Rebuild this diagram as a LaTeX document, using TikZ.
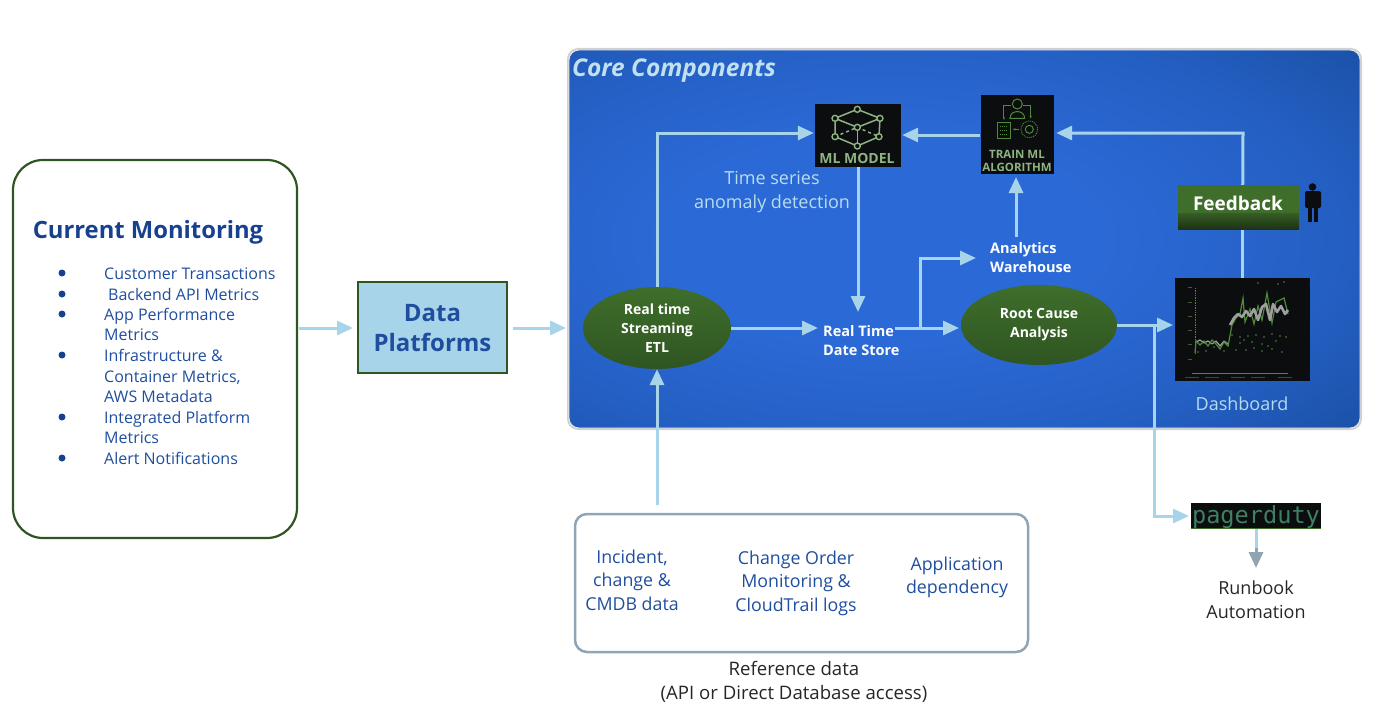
\documentclass[tikz,border=0pt]{standalone}
\usepackage{fontspec}
\setmainfont{Open Sans}
\newfontfamily\pdfont{DejaVu Sans Mono}
\usetikzlibrary{arrows.meta,shapes.geometric,calc,shadows}
\definecolor{arrowblue}{HTML}{A8D4EA}
\definecolor{inkblue}{HTML}{1F4E9E}
\definecolor{deepblue}{HTML}{17408F}
\definecolor{leaf}{HTML}{3F6E2B}
\definecolor{leafdark}{HTML}{2F5522}
\definecolor{ink}{HTML}{0B0D0E}
\definecolor{softgreen}{HTML}{8FB381}
\definecolor{linegreen}{HTML}{4E8A3A}
\definecolor{greyframe}{HTML}{8FA5B5}
\definecolor{greyarrow}{HTML}{8FA3B0}
\definecolor{panelmid}{HTML}{2B69D6}
\definecolor{paneledge}{HTML}{174C9E}
\definecolor{pdtext}{HTML}{3F7F62}
\pgfdeclareradialshading{panelglow}{\pgfpoint{-6bp}{0bp}}{color(0bp)=(panelmid); color(14bp)=(panelmid); color(28bp)=(panelmid!65!paneledge); color(42bp)=(paneledge); color(100bp)=(paneledge)}
\tikzset{
 flow/.style={draw=arrowblue,line width=3pt,-{Triangle[length=16pt,width=14pt]}},
 plainflow/.style={draw=arrowblue,line width=3pt},
 etlshape/.style={ellipse,draw=none,top color=leaf,bottom color=leafdark,inner sep=0pt,text=white,font=\bfseries\fontsize{14}{19}\selectfont,align=center},
 whitebold/.style={text=white,font=\bfseries\fontsize{14.5}{19}\selectfont,align=left,anchor=west,inner sep=0pt},
 imgbox/.style={fill=ink,draw=none,inner sep=0pt},
 bluetext/.style={text=inkblue,font=\fontsize{17.8}{23.5}\selectfont,align=center},
 listtext/.style={text=inkblue,font=\fontsize{16}{20.5}\selectfont,align=left,anchor=west,inner sep=0pt},
 bul/.style={circle,fill=deepblue,inner sep=0pt,minimum size=7pt},
 cubeedge/.style={draw=softgreen,line width=1.5pt},
 iconline/.style={draw=linegreen,line width=1pt},
}
\begin{document}
\begin{tikzpicture}[x=1pt,y=-1pt]
\useasboundingbox (0,0) rectangle (1400,725);
% core panel
\fill[black!18,rounded corners=11pt] (567,48) rectangle (1362,430);
\shade[rounded corners=10pt,shading=panelglow,draw=white!85!gray,line width=.8pt] (569,50) rectangle (1360,428);
\node[text=arrowblue!70!white,font=\bfseries\itshape\fontsize{24.4}{26}\selectfont,anchor=west,inner sep=0pt] (coretitle) at (572,71) {Core Components};

% current monitoring
\node[draw=leafdark,line width=2.2pt,rounded corners=30pt,minimum width=284pt,minimum height=378pt,inner sep=0pt] (cm) at (155,349) {};
\node[text=deepblue,font=\bfseries\fontsize{23.8}{28}\selectfont,inner sep=0pt] (cmtitle) at (148,232) {Current Monitoring};
\node[listtext] (l1) at (104,274) {Customer Transactions};
\node[listtext] (l2) at (108,294) {Backend API Metrics};
\node[listtext,anchor=north west] (l3) at (104,308) {App Performance\\Metrics};
\node[listtext,anchor=north west] (l4) at (104,349.5) {Infrastructure \&\\Container Metrics,\\AWS Metadata};
\node[listtext,anchor=north west] (l5) at (104,411) {Integrated Platform\\Metrics};
\node[listtext] (l6) at (104,458) {Alert Notifications};
\node[bul] (b1) at (62,273) {};
\node[bul] (b2) at (62,294) {};
\node[bul] (b3) at (62,314) {};
\node[bul] (b4) at (62,355) {};
\node[bul] (b5) at (62,417) {};
\node[bul] (b6) at (62,458) {};

% data platforms
\node[fill=arrowblue,draw=leafdark,line width=1.8pt,minimum width=149pt,minimum height=91pt,inner sep=0pt,text=inkblue,font=\bfseries\fontsize{24}{30}\selectfont,align=center] (dp) at (432.5,327.5) {\rule{0pt}{18pt}Data\\Platforms};

% main nodes
\node[etlshape,minimum width=148pt,minimum height=82pt] (etl) at (657,328) {\rule{0pt}{2pt}Real time\\Streaming\\ETL};
\node[whitebold] (store) at (823,341) {Real Time\\Date Store};
\node[etlshape,minimum width=156pt,minimum height=80pt] (rca) at (1039,325) {\rule{0pt}{3pt}Root Cause\\Analysis};
\node[whitebold] (wh) at (990,258) {Analytics\\Warehouse};
\node[imgbox,minimum width=86pt,minimum height=63pt] (ml) at (858,135.5) {};
\node[imgbox,minimum width=73pt,minimum height=79pt] (train) at (1017.5,134.5) {};
\node[imgbox,minimum width=135pt,minimum height=103pt] (dash) at (1242.5,329.5) {};
\node[imgbox,minimum width=130pt,minimum height=25pt] (pd) at (1256,515.5) {};

% connectors
\draw[plainflow] (dash.north) -- (dash.north |- 0,229);
\draw[flow] (dash.north |- 0,229) -- (1243,133) -- ([xshift=2pt]train.east |- 0,133);
\draw[flow] ([xshift=-1pt]train.west |- 0,135) -- ([xshift=1pt]ml.east |- 0,135);
\draw[flow] (etl.north) |- ([xshift=-1pt]ml.west |- 0,133);
\draw[flow] (ml.south) -- (ml.south |- 0,312);
\draw[flow] (etl.east) -- (818,328);
\draw[flow] (895,328) -- (959,328);
\draw[flow] (920,328) -- (920,258) -- (976,258);
\draw[flow] (1016,237) -- (1016,177);
\draw[flow] (rca.east) -- (1173,325);
\draw[flow] (1154,325) -- (1154,516) -- (1189,516);
\draw[flow] (299,328) -- (353,328);
\draw[flow] (513,328) -- (566,328);
\draw[flow] (657,505) -- (etl.south);
\draw[draw=arrowblue,line width=3pt] (pd.south) -- (1256,552);
\draw[draw=greyarrow,line width=3pt,-{Triangle[length=16pt,width=14pt]}] (1256,548) -- (1256,568);

% feedback
\node[fill=leaf,minimum width=121pt,minimum height=44pt,inner sep=0pt] (fb) at (1238.5,207) {};
\fill[top color=leaf!85!black,bottom color=leafdark!60!black] (1178,213) rectangle (1299,229);
\node[text=white,font=\bfseries\fontsize{19}{22}\selectfont,inner sep=0pt] (fbt) at (1238,203.5) {Feedback};
% person
\fill[ink] (1312.5,187) circle (3.8);
\fill[ink,rounded corners=2pt] (1305,191) rectangle (1321,208);
\fill[ink] (1308,205) rectangle (1312,222);
\fill[ink] (1314,205) rectangle (1318,222);

% labels on panel
\node[text=arrowblue!80!white,font=\fontsize{18}{24}\selectfont,align=center] (ts) at (772,192) {Time series\\anomaly detection};
\node[text=arrowblue!85!white,font=\fontsize{18}{22}\selectfont] (dl) at (1242,404) {Dashboard};

% ML model icon
\begin{scope}[shift={(780,80)},x=0.3333pt,y=-0.3333pt]
 \coordinate (t) at (232,88); \coordinate (l) at (165,115); \coordinate (r) at (300,115);
 \coordinate (c) at (232,142); \coordinate (bl) at (165,170); \coordinate (br) at (297,170); \coordinate (b) at (232,198);
 \draw[cubeedge] (l)--(t)--(r)--(c)--(l)--(bl)--(b)--(br)--(r);
 \draw[cubeedge] (c)--(b);
 \draw[cubeedge,dashed] (bl)--(c)--(br);
 \foreach \p in {t,l,r,c,bl,br,b} \fill[ink,draw=softgreen,line width=1.4pt] (\p) circle (9);
\end{scope}
\node[text=softgreen,font=\bfseries\fontsize{14}{15}\selectfont,inner sep=0pt] (mlt) at (857,158.5) {ML MODEL};

% Train icon
\begin{scope}[shift={(780,80)},x=0.3333pt,y=-0.3333pt]
 \draw[iconline] (712,72) circle (15);
 \draw[iconline] (690,115) .. controls (690,88) and (734,88) .. (734,115) -- cycle;
 \draw[iconline,-{Stealth[length=3pt]}] (694,78) -- (672,78) -- (672,120);
 \draw[iconline,-{Stealth[length=3pt]}] (730,78) -- (752,78) -- (752,116);
 \draw[iconline] (652,127) rectangle (692,177);
 \draw[iconline,densely dotted] (660,140) -- (684,140) (660,152) -- (684,152) (660,164) -- (684,164);
 \draw[iconline,densely dotted] (748,148) circle (25);
 \draw[iconline] (748,148) circle (12);
 \draw[iconline,-{Stealth[length=3pt]}] (718,148) -- (698,148);
\end{scope}
\node[text=softgreen,font=\bfseries\fontsize{11.5}{13}\selectfont,align=center,inner sep=0pt] (trt) at (1017,160.5) {TRAIN ML\\ALGORITHM};

% dashboard chart
\begin{scope}
 \draw[linegreen,line width=.7pt,densely dotted] (1195,288) -- (1195,353);
 \draw[linegreen,line width=.7pt] (1192,373) -- (1288,373);
 \foreach \y in {287,302,316,330,344,359} \fill[linegreen!70!black] (1188,\y) rectangle (1192,\y+1);
 \foreach \x in {1192,1212,1238,1258,1285} \fill[linegreen!60!black] (\x-7,377) rectangle (\x+7,378);
 \foreach \x/\y in {1198/352,1206/351,1214/347,1224/351,1232/335,1240/337,1248/336,1256/335,1264/337,1272/334,1280/336,1286/337,1236/350,1246/350,1254/348,1262/351,1272/349,1282/352,1240/343,1252/342,1262/344,1276/341,1244/340,1268/346,1258/283,1278/284,1284/282}
  \fill[linegreen] (\x,\y) circle (.8);
 \draw[gray!75!white,line width=1.2pt,line join=round] (1196,342) -- (1200,340) -- (1204,343) -- (1208,341) -- (1212,344) -- (1216,341) -- (1220,346) -- (1224,341) -- (1228,344);
 \draw[linegreen,line width=1.2pt] (1195,353) -- (1196,341) -- (1200,345) -- (1204,341) -- (1208,346) -- (1212,340) -- (1216,344) -- (1220,349) -- (1224,342) -- (1228,346) -- (1232,325) -- (1236,318) -- (1240,314) -- (1243,298) -- (1245,322) -- (1250,309) -- (1254,324) -- (1258,306) -- (1262,320) -- (1267,293) -- (1272,323) -- (1276,302) -- (1280,300) -- (1284,298) -- (1288,314);
 \draw[gray!75!white,line width=2.6pt,line join=round] (1230,325) -- (1234,318) -- (1238,314) -- (1242,317) -- (1246,311) -- (1250,316) -- (1254,309) -- (1258,320) -- (1262,307) -- (1266,304) -- (1270,320) -- (1273,304) -- (1277,312) -- (1281,306) -- (1285,314) -- (1288,310);
\end{scope}

% pagerduty
\node[text=pdtext,font=\pdfont\fontsize{23.6}{24}\selectfont,inner sep=0pt,anchor=base] (pdt) at (1256,523) {pagerduty};
\draw[leaf,line width=.8pt] (pd.south west) -- (pd.south east);
\node[text=black!85,font=\fontsize{18}{23.5}\selectfont,align=center] (rb) at (1256,599.5) {Runbook\\Automation};

% reference data
\node[draw=greyframe,line width=2.5pt,rounded corners=12pt,minimum width=453pt,minimum height=138pt,inner sep=0pt] (ref) at (801.5,583) {};
\node[bluetext] (r1) at (632,580) {Incident,\\change \&\\CMDB data};
\node[bluetext] (r2) at (796,583) {Change Order\\Monitoring \&\\CloudTrail logs};
\node[bluetext] (r3) at (957,577.5) {Application\\dependency};
\node[text=black!85,font=\fontsize{18.6}{23.5}\selectfont,align=center] (rt) at (794,682) {Reference data\\(API or Direct Database access)};
\end{tikzpicture}
\end{document}
